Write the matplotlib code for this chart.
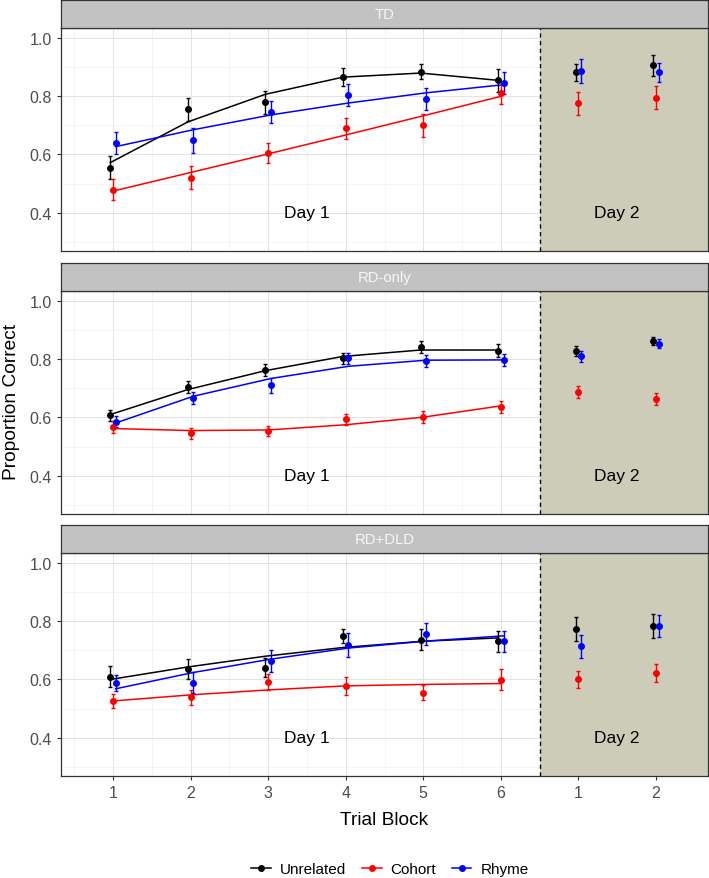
import numpy as np
import matplotlib.pyplot as plt
from matplotlib.lines import Line2D

plt.rcParams['font.family'] = ['Liberation Sans', 'DejaVu Sans']

groups = ['TD', 'RD-only', 'RD+DLD']
conditions = ['Unrelated', 'Cohort', 'Rhyme']
colors = ['black', 'red', 'blue']
blocks = [1, 2, 3, 4, 5, 6, 7, 8]            # 1-6 = Day 1, 7-8 = Day 2
block_labels = ['1', '2', '3', '4', '5', '6', '1', '2']

# observed means (Day 1 blocks 1-6, Day 2 blocks 1-2), order: Unrelated, Cohort, Rhyme
td_mean = [[0.555, 0.755, 0.779, 0.866, 0.885, 0.855, 0.882, 0.907],
           [0.479, 0.520, 0.605, 0.690, 0.700, 0.810, 0.776, 0.795],
           [0.639, 0.649, 0.745, 0.805, 0.790, 0.845, 0.887, 0.882]]
td_err = [[0.040, 0.040, 0.040, 0.030, 0.026, 0.040, 0.030, 0.036],
          [0.037, 0.040, 0.033, 0.037, 0.040, 0.038, 0.040, 0.040],
          [0.037, 0.043, 0.038, 0.037, 0.038, 0.038, 0.040, 0.034]]
td_fit = [[0.572, 0.712, 0.807, 0.866, 0.880, 0.855],
          [0.474, 0.538, 0.602, 0.667, 0.733, 0.800],
          [0.627, 0.685, 0.736, 0.777, 0.812, 0.840]]

rd_mean = [[0.607, 0.705, 0.764, 0.804, 0.843, 0.830, 0.830, 0.863],
           [0.567, 0.545, 0.553, 0.594, 0.601, 0.636, 0.687, 0.663],
           [0.586, 0.666, 0.710, 0.803, 0.794, 0.798, 0.810, 0.854]]
rd_err = [[0.020, 0.020, 0.020, 0.019, 0.020, 0.022, 0.017, 0.015],
          [0.020, 0.018, 0.018, 0.019, 0.020, 0.020, 0.020, 0.020],
          [0.020, 0.020, 0.025, 0.020, 0.020, 0.020, 0.018, 0.015]]
rd_fit = [[0.610, 0.696, 0.761, 0.810, 0.832, 0.832],
          [0.562, 0.555, 0.557, 0.575, 0.601, 0.640],
          [0.581, 0.673, 0.734, 0.776, 0.797, 0.798]]

dld_mean = [[0.610, 0.637, 0.641, 0.750, 0.737, 0.732, 0.774, 0.784],
            [0.526, 0.538, 0.592, 0.578, 0.555, 0.599, 0.600, 0.622],
            [0.589, 0.589, 0.663, 0.720, 0.757, 0.732, 0.714, 0.784]]
dld_err = [[0.037, 0.034, 0.032, 0.025, 0.037, 0.036, 0.040, 0.040],
           [0.024, 0.027, 0.027, 0.030, 0.027, 0.036, 0.030, 0.030],
           [0.028, 0.036, 0.038, 0.041, 0.038, 0.036, 0.040, 0.038]]
dld_fit = [[0.600, 0.643, 0.680, 0.710, 0.731, 0.743],
           [0.526, 0.547, 0.564, 0.578, 0.583, 0.586],
           [0.568, 0.624, 0.670, 0.708, 0.732, 0.750]]

means = [td_mean, rd_mean, dld_mean]
errs = [td_err, rd_err, dld_err]
fits = [td_fit, rd_fit, dld_fit]

W, H = 709, 879
fig = plt.figure(figsize=(W / 100, H / 100), dpi=100)

left, width = 61, 647
tops = [29, 292, 554]
ph, sh = 223, 28
dodge = [-0.035, 0.0, 0.035]

for i, g in enumerate(groups):
    top = tops[i]
    ax = fig.add_axes([left / W, 1 - (top + ph) / H, width / W, ph / H])
    sax = fig.add_axes([left / W, 1 - top / H, width / W, sh / H])

    # strip
    sax.set_facecolor('#C2C2C2')
    sax.set_xticks([])
    sax.set_yticks([])
    for sp in sax.spines.values():
        sp.set_color('#333333')
        sp.set_linewidth(0.9)
    sax.text(0.5, 0.5, g, color='#F7F7F7', fontsize=10.7, ha='center', va='center',
             transform=sax.transAxes)

    ax.set_axisbelow(True)
    ax.axvspan(6.5, 9, color='#CDCCB9', zorder=1, lw=0)
    ax.axvline(6.5, color='black', ls='--', lw=1, dashes=(3, 2.5), zorder=2)

    for k in range(3):
        x = np.array(blocks) + dodge[k]
        ax.plot(x[:6], fits[i][k], color=colors[k], lw=1.1, zorder=3)
        ax.errorbar(x, means[i][k], yerr=errs[i][k], fmt='o', color=colors[k],
                    ms=4, capsize=1.3, elinewidth=1, capthick=1, zorder=4)

    ax.text(3.5, 0.4, 'Day 1', fontsize=12.5, ha='center', va='center', zorder=5)
    ax.text(7.5, 0.4, 'Day 2', fontsize=12.5, ha='center', va='center', zorder=5)

    ax.set_xlim(0.33, 8.67)
    ax.set_ylim(0.268, 1.035)
    ax.set_yticks([0.4, 0.6, 0.8, 1.0])
    ax.set_yticklabels(['0.4', '0.6', '0.8', '1.0'])
    ax.set_yticks([0.3, 0.5, 0.7, 0.9], minor=True)
    ax.set_xticks(blocks)
    ax.set_xticklabels(block_labels)
    ax.set_xticks(np.arange(0.5, 9, 1.0), minor=True)
    ax.grid(which='major', color='#E3E3E3', lw=0.7)
    ax.grid(which='minor', color='#F0F0F0', lw=0.5)
    ax.tick_params(which='major', length=3, color='#333333', labelcolor='#4D4D4D',
                   labelsize=11.5, width=0.8)
    ax.tick_params(which='minor', length=0)
    if i < 2:
        ax.tick_params(axis='x', length=0, labelbottom=False)
    for sp in ax.spines.values():
        sp.set_color('#333333')
        sp.set_linewidth(0.9)

fig.text(12 / W, 1 - 402 / H, 'Proportion Correct', rotation=90, fontsize=13.8,
         ha='center', va='center')
fig.text((left + width / 2) / W, 1 - 821 / H, 'Trial Block', fontsize=13.8,
         ha='center', va='center')

handles = [Line2D([], [], color=c, marker='o', ms=4, lw=1.1) for c in colors]
fig.legend(handles, conditions, loc='center', bbox_to_anchor=(390 / W, 1 - 870 / H),
           ncol=3, frameon=False, fontsize=11, handlelength=1.3,
           columnspacing=1.0, handletextpad=0.6)

fig.savefig('out.png', dpi=100)
